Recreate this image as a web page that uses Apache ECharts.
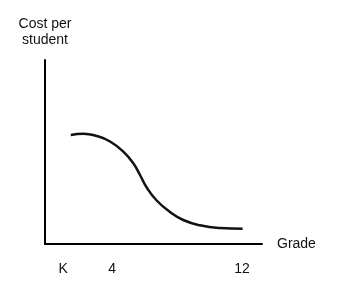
<!DOCTYPE html>
<html><head><meta charset="utf-8">
<script src="https://cdn.jsdelivr.net/npm/echarts@6/dist/echarts.min.js"></script>
<style>html,body{margin:0;padding:0;background:#fff}#c{width:339px;height:292px}</style>
</head><body><div id="c"></div>
<script>
// Grade position (K = 0) and relative cost per student
const grades = [0.52, 1.36, 2.26, 3.15, 4.04, 4.71, 5.16, 5.61, 6.28, 7.17, 8.06, 9.18, 10.52, 12.04];
const costs  = [109, 110.3, 108, 102.5, 92.3, 80.7, 69, 56.5, 43.5, 32, 24, 18.7, 16, 15.3];
const tickValues = [0, 3.3, 12];
const tickLabels = ['K', '4', '12'];

const font = 'Liberation Sans, Arial, Helvetica, sans-serif';
const chart = echarts.init(document.getElementById('c'), null, {renderer: 'canvas'});
chart.setOption({
  animation: false,
  backgroundColor: '#fff',
  grid: {left: 45, right: 77, top: 60, bottom: 48, containLabel: false},
  xAxis: {
    type: 'value', min: -1.21, max: 13.34,
    name: 'Grade', nameLocation: 'end', nameGap: 15,
    nameTextStyle: {color: '#111', fontSize: 14, fontFamily: font, verticalAlign: 'middle'},
    axisLine: {show: true, lineStyle: {color: '#000', width: 2}},
    axisTick: {show: false},
    splitLine: {show: false},
    axisLabel: {
      customValues: tickValues, color: '#111', fontSize: 14, fontFamily: font, margin: 18,
      formatter: function (v) { const i = tickValues.indexOf(v); return i >= 0 ? tickLabels[i] : ''; }
    }
  },
  yAxis: {
    type: 'value', min: 0, max: 184,
    name: 'Cost per\nstudent', nameLocation: 'end', nameGap: 12,
    nameTextStyle: {color: '#111', fontSize: 14, fontFamily: font, lineHeight: 16, align: 'center'},
    axisLine: {show: true, onZero: false, lineStyle: {color: '#000', width: 2}},
    axisTick: {show: false},
    axisLabel: {show: false},
    splitLine: {show: false}
  },
  series: [{
    type: 'line', smooth: 0.5, symbol: 'none',
    data: grades.map((g, i) => [g, costs[i]]),
    lineStyle: {color: '#111', width: 2.5}
  }]
});
</script></body></html>
